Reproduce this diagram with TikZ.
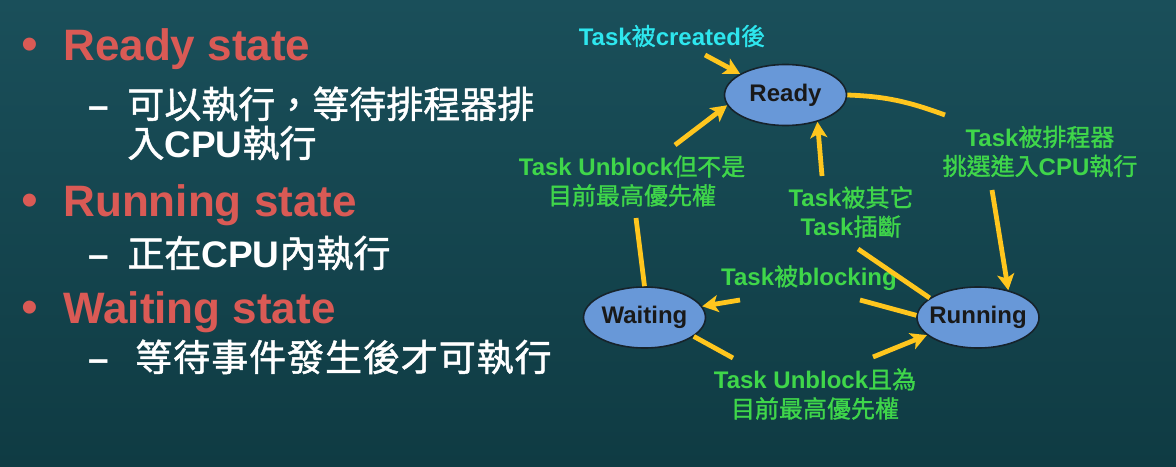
\documentclass[tikz,border=0pt]{standalone}
\usepackage{fontspec}
\setmainfont{Liberation Sans}
\newfontfamily\cjk{Noto Sans CJK TC}[BoldFont={Noto Sans CJK TC}, BoldFeatures={FakeBold=1.3}]
\newcommand{\zh}[1]{{\cjk #1}}
\usetikzlibrary{arrows.meta,shapes.geometric}
\definecolor{bgtop}{HTML}{1A4F5A}
\definecolor{bgbot}{HTML}{0F3B43}
\definecolor{headred}{HTML}{DA5A55}
\definecolor{lblgreen}{HTML}{3FD64A}
\definecolor{lblcyan}{HTML}{2EE6EE}
\definecolor{flowyellow}{HTML}{FFC61E}
\definecolor{statefill}{HTML}{6898D8}
\definecolor{stateline}{HTML}{16232B}

\begin{document}
\begin{tikzpicture}[
    x=0.5pt, y=0.5pt,
    every node/.style={inner sep=0pt},
    head/.style={anchor=base west, text=headred,
                 font=\fontsize{22}{26}\selectfont\bfseries},
    bulletmark/.style={anchor=base west, text=headred,
                 font=\fontsize{24}{26}\selectfont},
    item/.style={anchor=base west, text=white,
                 font=\fontsize{18.5}{22}\selectfont\bfseries},
    state/.style={ellipse, draw=stateline, line width=0.8pt, fill=statefill,
                  minimum width=61pt, minimum height=30.5pt,
                  inner xsep=-4pt, inner ysep=2pt, text=black!90,
                  font=\fontsize{12}{14}\selectfont\bfseries},
    lbl/.style={align=center, text=lblgreen,
                font=\fontsize{12}{14.5}\selectfont\bfseries},
    seg/.style={line width=2.4pt, flowyellow},
    flow/.style={seg, -{Stealth[length=8pt,width=8.5pt,inset=2pt]}},
]

% Background
\shade[top color=bgtop, bottom color=bgbot] (0,0) rectangle (1176,-466);

% Left column
\node[bulletmark] (b1) at (21,-60) {•};
\node[head] (hready) at (63,-60) {Ready state};
\node[item] (iready) at (88,-118) {–\hspace{9.2pt}\zh{可以執行，等待排程器排}};
\node[item] (iready2) at (127,-157) {\zh{入}CPU\zh{執行}};

\node[bulletmark] (b2) at (21,-216) {•};
\node[head] (hrun) at (63,-216) {Running state};
\node[item] (irun) at (88,-267) {–\hspace{9.2pt}\zh{正在}CPU\zh{內執行}};

\node[bulletmark] (b3) at (21,-323) {•};
\node[head] (hwait) at (63,-323) {Waiting state};
\node[item] (iwait) at (88,-371) {–\hspace{13.2pt}{\cjk\addfontfeature{LetterSpace=2.5}等待事件發生後才可執行}};

% States
\node[state] (ready) at (785.5,-95) {Ready};
\node[state] (waiting) at (644.5,-317.5) {Waiting};
\node[state] (running) at (978,-317.5) {Running};

% Transition labels
\node[lbl, text=lblcyan] (created) at (672,-36) {Task\zh{被}created\zh{後}};
\node[lbl] (unblockno) at (632,-181) {Task Unblock\zh{但不是}\\\zh{目前最高優先權}};
\node[lbl] (sched) at (1040,-151.5) {Task\zh{被排程器}\\\zh{挑選進入}CPU\zh{執行}};
\node[lbl] (preempt) at (851,-212) {Task\zh{被其它}\\Task\zh{插斷}};
\node[lbl] (block) at (809,-278) {Task\zh{被}blocking};
\node[lbl] (unblockyes) at (815,-394) {Task Unblock\zh{且為}\\\zh{目前最高優先權}};

% Free ends of the broken connectors
\coordinate (newtask) at (705,-55);
\coordinate (wr1) at (636,-218);
\coordinate (wr2) at (675,-145);
\coordinate (rs1) at (945,-115);
\coordinate (rs2) at (992,-190);
\coordinate (pr1) at (858,-249);
\coordinate (pr2) at (822,-176);
\coordinate (bl1) at (860,-300);
\coordinate (bl2) at (740,-300);
\coordinate (ur1) at (733,-358);
\coordinate (ur2) at (873,-357);

% Connectors
\draw[flow] (newtask) -- (ready.155);
\draw[seg] (waiting.north) -- (wr1);
\draw[flow] (wr2) -- (ready.190);
\draw[seg] (ready.east) to[out=-2, in=160] (rs1);
\draw[flow] (rs2) -- (running.42);
\draw[seg] (running.158) -- (pr1);
\draw[flow] (pr2) -- (ready.-40);
\draw[seg] (running.178) -- (bl1);
\draw[flow] (bl2) -- (waiting.11);
\draw[seg] (waiting.-21) -- (ur1);
\draw[flow] (ur2) -- (running.199);

\end{tikzpicture}
\end{document}
